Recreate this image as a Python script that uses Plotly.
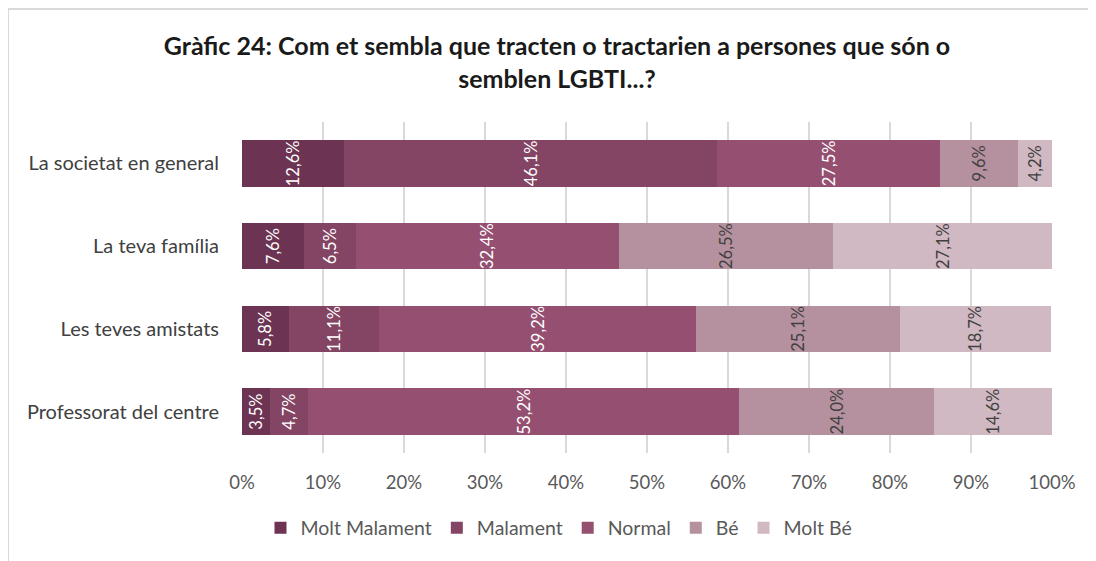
import plotly.graph_objects as go

CATEGORIES = ["La societat en general", "La teva família", "Les teves amistats", "Professorat del centre"]
SERIES = ["Molt Malament", "Malament", "Normal", "Bé", "Molt Bé"]
MOLT_MALAMENT = [12.6, 7.6, 5.8, 3.5]
MALAMENT = [46.1, 6.5, 11.1, 4.7]
NORMAL = [27.5, 32.4, 39.2, 53.2]
BE = [9.6, 26.5, 25.1, 24.0]
MOLT_BE = [4.2, 27.1, 18.7, 14.6]
TICK_VALS = [0, 10, 20, 30, 40, 50, 60, 70, 80, 90, 100]
TICK_TEXT = ["0%", "10%", "20%", "30%", "40%", "50%", "60%", "70%", "80%", "90%", "100%"]

COLORS = ["#6c3452", "#834563", "#955071", "#b5919f", "#d1b9c4"]
TEXT_COLORS = ["white", "white", "white", "#404040", "#404040"]
FONT = "Lato"

# page body adds an 8px offset, so the figure is drawn a little smaller
W, H = 1088, 553
L, R, T, B = 234, 44, 114, 108
PW, PH = W - L - R, H - T - B

fig = go.Figure()
for name, vals, color, tcolor in zip(SERIES, [MOLT_MALAMENT, MALAMENT, NORMAL, BE, MOLT_BE], COLORS, TEXT_COLORS):
    fig.add_trace(go.Bar(
        y=CATEGORIES, x=vals, name=name, orientation="h",
        marker=dict(color=color, line=dict(width=0)),
        text=[f"{v:.1f}%".replace(".", ",") for v in vals],
        textposition="inside", insidetextanchor="middle", textangle=-90,
        constraintext="none",
        textfont=dict(family=FONT, size=16.5, color=tcolor),
    ))

# chart frame: only the top and left edges are inside the picture
x_left = (0 - L) / PW
y_top = (PH + T - 1) / PH
border = dict(color="#d9d9d9", width=2)

fig.update_layout(
    width=W, height=H,
    barmode="stack", bargap=0.44,
    paper_bgcolor="white", plot_bgcolor="white",
    margin=dict(l=L, r=R, t=T, b=B),
    font=dict(family=FONT, color="#595959"),
    title=dict(
        text="<b>Gràfic 24: Com et sembla que tracten o tractarien a persones que són o<br>semblen LGBTI...?</b>",
        x=549 / W, xanchor="center", y=1 - 47 / H, yanchor="middle",
        font=dict(family=FONT, size=25, color="#1a1a1a"),
    ),
    xaxis=dict(
        range=[0, 100], tickvals=TICK_VALS, ticktext=TICK_TEXT,
        showgrid=True, gridcolor="#d9d9d9", gridwidth=1.5,
        zeroline=False, showline=False,
        ticks="outside", ticklen=13, tickcolor="rgba(0,0,0,0)",
        tickfont=dict(size=18.5, color="#595959"),
    ),
    yaxis=dict(
        autorange="reversed", showgrid=False, zeroline=False,
        ticks="outside", ticklen=18, tickcolor="rgba(0,0,0,0)",
        tickfont=dict(size=20, color="#404040"),
    ),
    legend=dict(
        orientation="h", x=(551 - L) / PW, xanchor="center", y=(PH + T - 520) / PH, yanchor="middle",
        font=dict(size=19.5, color="#595959"), traceorder="normal",
        itemwidth=30,
    ),
    shapes=[
        dict(type="line", xref="paper", yref="paper", x0=x_left, x1=3, y0=y_top, y1=y_top, line=border, layer="below"),
        dict(type="line", xref="paper", yref="paper", x0=x_left, x1=x_left, y0=-3, y1=y_top, line=border, layer="below"),
    ],
)

fig.write_html("out.html")
